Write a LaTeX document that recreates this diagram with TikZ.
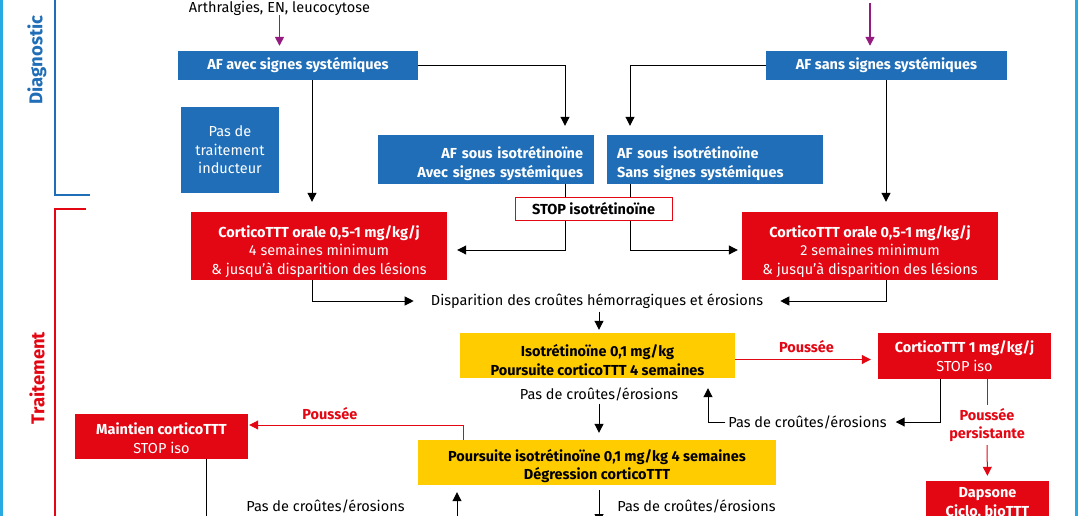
\documentclass[tikz,border=0pt]{standalone}
\usepackage{fontspec}
\setmainfont{Fira Sans}
\usepackage{tikz}
\usetikzlibrary{arrows.meta}

\definecolor{afblue}{HTML}{1F6EB7}
\definecolor{ttred}{HTML}{E30613}
\definecolor{isoyellow}{HTML}{FFCC00}
\definecolor{trigpurple}{HTML}{951B81}
\definecolor{edgeblue}{HTML}{29A9E1}

\newcommand{\boxfont}{\fontsize{14.5}{18.5}\selectfont}
\newcommand{\drop}[1]{\rule{0pt}{#1}}

\tikzset{
  >={Triangle[length=9pt,width=9pt]},
  every node/.style={font=\boxfont, inner sep=0pt},
  box/.style={inner sep=0pt, align=center},
  bluebox/.style={box, fill=afblue, text=white},
  redbox/.style={box, fill=ttred, text=white},
  yellowbox/.style={box, fill=isoyellow, text=black, font=\boxfont\bfseries},
  stopbox/.style={box, draw=ttred, line width=1pt, fill=white, font=\boxfont\bfseries},
  redlabel/.style={text=ttred, font=\boxfont\bfseries},
  link/.style={->, line width=1pt},
  redlink/.style={->, line width=1pt, draw=ttred},
  purplelink/.style={->, line width=1.5pt, draw=trigpurple},
}

\begin{document}
\begin{tikzpicture}[x=1pt,y=-1pt]
\useasboundingbox (0,0) rectangle (1078,516);

% cadre et accolades
\fill[edgeblue] (0,0) rectangle (3,516);
\fill[edgeblue] (1075,0) rectangle (1078,516);

\draw[afblue, line width=2pt] (55,-5) -- (55,195) -- (90,195);
\draw[ttred, line width=2pt] (86,209) -- (55,209) -- (55,525);

\node[rotate=90, text=afblue, font=\fontsize{18.5}{20}\selectfont\bfseries] (diag) at (37,60) {Diagnostic};
\node[rotate=90, text=ttred, font=\fontsize{18.5}{20}\selectfont\bfseries] (trait) at (37,378) {Traitement};

% diagnostic
\node (sym) at (279.5,8) {Arthralgies, EN, leucocytose};
\coordinate (ptop) at (870,3);

\node[bluebox, font=\boxfont\bfseries, minimum width=240pt, minimum height=29pt] (avec) at (298,65.5) {AF avec signes systémiques};
\node[bluebox, font=\boxfont\bfseries, minimum width=241pt, minimum height=29pt] (sans) at (886.5,65.5) {AF sans signes systémiques};
\node[bluebox, minimum width=98pt, minimum height=86pt] (nottt) at (230,150) {Pas de\\traitement\\inducteur};

\node[bluebox, font=\boxfont\bfseries, align=right, text width=194pt, inner xsep=11pt, minimum height=49pt] (sousA) at (486,159.5) {\drop{20pt}AF sous isotrétinoïne\\Avec signes systémiques};
\node[bluebox, font=\boxfont\bfseries, align=left, text width=196pt, inner xsep=10pt, minimum height=49pt] (sousS) at (715,159.5) {\drop{20pt}AF sous isotrétinoïne\\Sans signes systémiques};

\node[stopbox, minimum width=157pt, minimum height=23pt] (stop) at (593.5,209) {STOP isotrétinoïne};

% traitement
\node[redbox, minimum width=256pt, minimum height=68pt] (cL) at (319,246) {\drop{23pt}\textbf{CorticoTTT orale 0,5-1 mg/kg/j}\\4 semaines minimum\\\& jusqu'à disparition des lésions};
\node[redbox, minimum width=256pt, minimum height=68pt] (cR) at (870,246) {\drop{23pt}\textbf{CorticoTTT orale 0,5-1 mg/kg/j}\\2 semaines minimum\\\& jusqu'à disparition des lésions};

\node[inner xsep=3pt] (disp) at (597,301) {Disparition des croûtes hémorragiques et érosions};

\node[yellowbox, minimum width=275pt, minimum height=45pt] (iso1) at (597.5,355.5) {\drop{21.5pt}Isotrétinoïne 0,1 mg/kg\\Poursuite corticoTTT 4 semaines};
\node[redbox, minimum width=173pt, minimum height=46pt] (c1) at (964.5,356) {\textbf{CorticoTTT 1 mg/kg/j}\\STOP iso};

\node[inner sep=3pt] (pas1) at (599,394) {Pas de croûtes/érosions};
\node[inner sep=3pt] (pas2) at (807.5,422) {Pas de croûtes/érosions};
\node[redlabel, align=center, inner sep=3pt] (pers) at (987,425) {Poussée\\persistante};

\node[yellowbox, minimum width=358pt, minimum height=45pt] (iso2) at (597,462.5) {\drop{19.5pt}Poursuite isotrétinoïne 0,1 mg/kg 4 semaines\\Dégression corticoTTT};
\node[redbox, minimum width=173pt, minimum height=45pt] (maint) at (161.5,436.5) {\drop{15pt}\textbf{Maintien corticoTTT}\\STOP iso};
\node[redbox, font=\boxfont\bfseries, minimum width=123pt, minimum height=45pt] (dap) at (987.5,503.5) {Dapsone\\Ciclo, bioTTT};

\node (pas3) at (325.5,506) {Pas de croûtes/érosions};
\node (pas4) at (696.5,506) {Pas de croûtes/érosions};

% reperes pour les connecteurs
\coordinate (xa) at (565,0);
\coordinate (xs) at (630,0);
\coordinate (xl) at (312,0);
\coordinate (xr) at (886,0);
\coordinate (xm) at (599,0);
\coordinate (xu) at (708,0);
\coordinate (xc) at (940,0);
\coordinate (xp) at (987,0);
\coordinate (xg) at (463,0);
\coordinate (xb) at (206,0);
\coordinate (up) at (457,530);
\coordinate (bot) at (0,523);

\draw[purplelink, shorten >=5pt] (sym) -- (sym |- avec.north);
\draw[purplelink, shorten >=5pt] (ptop) -- (ptop |- sans.north);

\draw[link, shorten >=9pt] (avec.east) -| (xa |- sousA.north);
\draw[link, shorten >=9pt] (sans.west) -| (xs |- sousS.north);
\draw[link, shorten >=10pt] (xl |- avec.south) -- (xl |- cL.north);
\draw[link, shorten >=10pt] (xr |- sans.south) -- (xr |- cR.north);

\draw[line width=1pt] (xa |- sousA.south) -- (xa |- stop.north);
\draw[line width=1pt] (xs |- sousS.south) -- (xs |- stop.north);
\draw[link, shorten >=10pt] (xa |- stop.south) |- ([yshift=-4pt]cL.east);
\draw[link, shorten >=4pt] (xs |- stop.south) |- ([yshift=-4pt]cR.west);

\draw[link, shorten >=14pt] (xl |- cL.south) |- (disp.west);
\draw[link, shorten >=14pt] (xr |- cR.south) |- (disp.east);
\draw[link, shorten <=3pt, shorten >=3pt] (xm |- disp.south) -- (xm |- iso1.north);

\draw[redlink, shorten >=7pt] ([yshift=-4pt]iso1.east) -- node[redlabel, above=6pt] (pous1) {Poussée} ([yshift=-4pt]iso1.east -| c1.west);
\draw[link, shorten >=6pt] (xc |- c1.south) |- (pas2.east);
\draw[link, shorten >=10pt] (pas2.west) -| (xu |- iso1.south);
\draw[ttred, line width=1pt] (xp |- c1.south) -- (pers.north);
\draw[redlink, shorten >=5pt] (pers.south) -- (dap.north);

\draw[link, shorten >=7pt] (xm |- pas1.south) -- (xm |- iso2.north);
\draw[redlink, shorten >=1pt] (xg |- iso2.north) |- node[redlabel, above=5pt, pos=0.81] (pous2) {Poussée} ([yshift=11.5pt]maint.east);
\draw[line width=1pt] (xb |- maint.south) -- (xb |- up);
\draw[link, shorten >=7pt] (up) -- (up |- iso2.south);
\draw[link, shorten <=5pt] (xm |- iso2.south) -- (xm |- bot);
\end{tikzpicture}
\end{document}
